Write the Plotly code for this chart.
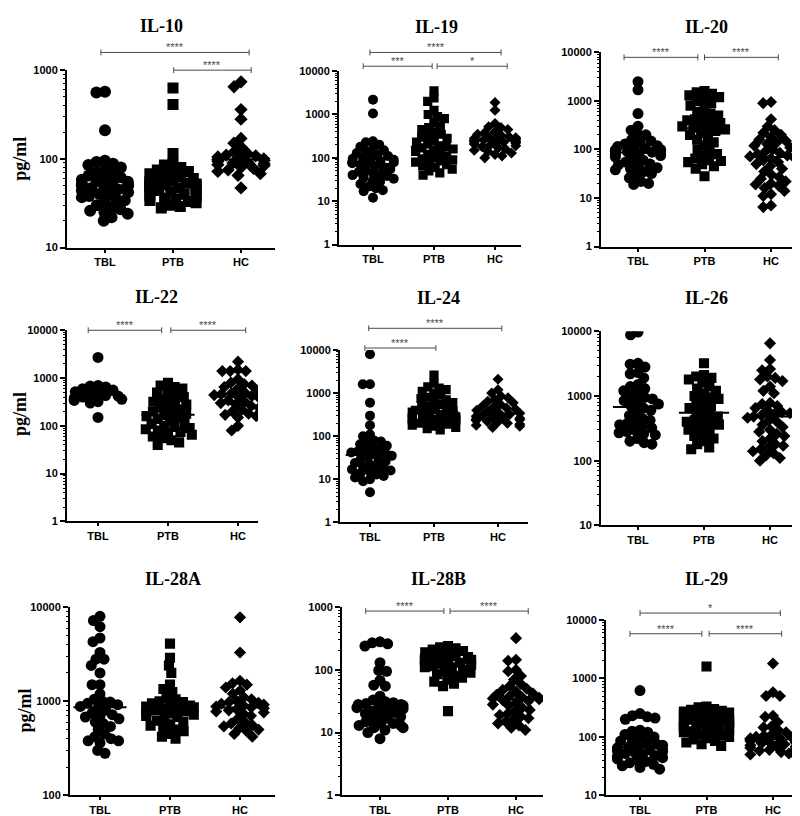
import numpy as np
import plotly.graph_objects as go

GROUPS = ["TBL", "PTB", "HC"]

# ---------------- data (pg/ml) ----------------
il10_tbl = [570, 560, 210, 95, 92, 88, 85, 80, 75, 70, 68, 65, 62, 60, 58, 56, 55, 53, 52, 51, 50, 50, 48, 47,
            45, 44, 42, 40, 40, 38, 37, 35, 34, 32, 30, 28, 27, 26, 25, 24, 22, 20]
il10_ptb = [630, 410, 115, 88, 85, 80, 75, 72, 70, 68, 65, 63, 60, 58, 56, 55, 53, 52, 52, 51, 51, 50, 48, 47,
            45, 44, 43, 42, 40, 40, 38, 37, 36, 35, 34, 33, 32, 30, 29, 28]
il10_hc = [740, 650, 360, 280, 170, 150, 135, 120, 115, 110, 108, 105, 102, 100, 98, 96, 94, 92, 90, 88, 86, 84,
           80, 78, 75, 72, 68, 65, 47]

il19_tbl = [2200, 1050, 240, 230, 200, 180, 160, 150, 140, 130, 120, 110, 100, 100, 95, 90, 85, 80, 78, 75, 72, 70,
            65, 60, 55, 50, 48, 45, 42, 40, 38, 35, 33, 30, 28, 25, 22, 20, 18, 17, 12]
il19_ptb = [3500, 2400, 2000, 1250, 1000, 900, 800, 650, 550, 500, 450, 400, 350, 320, 300, 280, 250, 230, 210, 190,
            180, 170, 160, 150, 140, 130, 120, 110, 100, 95, 90, 85, 80, 75, 70, 65, 60, 55, 50, 45, 40]
il19_hc = [1900, 1250, 620, 520, 500, 450, 400, 380, 350, 330, 310, 300, 290, 280, 270, 260, 250, 245, 240, 235, 230,
           220, 210, 200, 190, 180, 170, 160, 150, 140, 130, 120, 110, 100]

il20_tbl = [2500, 1700, 550, 300, 250, 200, 200, 160, 150, 140, 130, 120, 115, 110, 105, 100, 98, 95, 92, 90, 88, 86,
            82, 80, 75, 70, 65, 60, 55, 50, 48, 45, 42, 40, 38, 35, 32, 30, 26, 22, 20, 19]
il20_ptb = [1600, 1500, 1400, 1300, 1200, 1100, 1000, 900, 800, 700, 600, 550, 500, 450, 420, 400, 380, 350, 320, 300,
            280, 270, 260, 240, 220, 200, 180, 160, 140, 120, 100, 90, 80, 75, 65, 60, 58, 55, 50, 45, 40, 28]
il20_hc = [950, 900, 420, 300, 250, 220, 200, 180, 160, 150, 140, 130, 120, 110, 100, 90, 85, 80, 75, 72, 70, 65, 60,
           55, 50, 45, 40, 35, 30, 27, 25, 22, 20, 19, 18, 16, 14, 12, 11, 7, 6.5]

il22_tbl = [2700, 700, 680, 650, 600, 560, 520, 480, 450, 430, 420, 400, 380, 360, 340, 320, 300, 150]
il22_ptb = [800, 700, 650, 600, 550, 500, 450, 400, 380, 350, 320, 300, 280, 260, 240, 220, 200, 190, 180, 170, 160,
            150, 140, 130, 120, 110, 100, 95, 90, 85, 80, 75, 70, 65, 60, 55, 50, 45, 40]
il22_hc = [2200, 1500, 1400, 1400, 1400, 950, 800, 750, 700, 650, 600, 550, 500, 480, 460, 440, 420, 400, 380, 360,
           340, 320, 300, 280, 260, 240, 220, 200, 180, 170, 160, 150, 100, 80]

il24_tbl = [8000, 1600, 1600, 600, 300, 180, 110, 100, 80, 75, 70, 65, 60, 55, 50, 48, 45, 42, 40, 38, 35, 32, 30, 28,
            26, 24, 22, 20, 19, 18, 17, 16, 15, 14, 13, 12, 11, 10, 9, 5]
il24_ptb = [2600, 1700, 1400, 1300, 1200, 1100, 1000, 900, 800, 750, 700, 650, 600, 550, 500, 480, 450, 420, 400, 380,
            360, 340, 320, 300, 290, 280, 270, 260, 250, 240, 230, 220, 210, 200, 190, 180, 170, 160, 150, 140]
il24_hc = [2100, 1200, 1000, 850, 780, 700, 650, 600, 550, 500, 480, 450, 420, 400, 380, 360, 340, 320, 300, 290, 280,
           270, 260, 250, 240, 230, 220, 210, 200, 190, 180, 170, 160]

il26_tbl = [9700, 8800, 3200, 3100, 2800, 2300, 2200, 1900, 1500, 1400, 1300, 1200, 1100, 1000, 950, 900, 850, 800,
            750, 700, 650, 600, 550, 500, 450, 420, 400, 380, 360, 340, 320, 300, 280, 270, 260, 250, 220, 200, 190, 180]
il26_ptb = [3200, 2100, 2000, 1900, 1800, 1600, 1400, 1300, 1200, 1100, 1000, 950, 900, 800, 750, 700, 650, 600, 550,
            500, 480, 450, 420, 400, 380, 360, 340, 320, 300, 280, 260, 240, 220, 200, 180, 160, 150]
il26_hc = [6500, 3600, 2600, 2500, 2000, 1900, 1800, 1700, 1400, 1200, 1100, 780, 750, 700, 650, 600, 560, 540, 520,
           500, 480, 460, 420, 400, 360, 330, 300, 280, 260, 240, 220, 200, 180, 170, 160, 150, 140, 130, 120, 110, 100]

il28a_tbl = [8000, 7200, 6200, 4700, 4300, 3300, 2800, 2800, 2400, 2000, 1500, 1500, 1200, 1050, 1000, 980, 950, 920,
             880, 850, 800, 750, 720, 700, 680, 650, 600, 580, 540, 500, 450, 420, 400, 380, 380, 360, 300, 280]
il28a_ptb = [4100, 2900, 2400, 2000, 1500, 1350, 1250, 1100, 1050, 1000, 980, 950, 920, 900, 880, 860, 840, 820, 800,
             780, 760, 740, 720, 700, 680, 650, 620, 600, 570, 550, 520, 500, 480, 450, 420, 400]
il28a_hc = [7800, 3300, 1650, 1550, 1500, 1400, 1300, 1200, 1100, 1050, 1000, 980, 960, 940, 920, 900, 880, 860, 840,
            820, 800, 780, 760, 740, 700, 650, 600, 580, 560, 540, 520, 500, 480, 450, 420]

il28b_tbl = [280, 270, 260, 240, 130, 98, 95, 68, 57, 55, 38, 33, 31, 30, 29, 28, 28, 27, 26, 25, 24, 23, 22, 21, 20,
             19, 18, 17, 16, 15, 14, 14, 13, 13, 12, 12, 11, 10, 8]
il28b_ptb = [240, 230, 220, 210, 200, 190, 180, 170, 165, 160, 155, 150, 145, 140, 135, 130, 125, 120, 115, 110, 105,
             100, 95, 90, 85, 80, 75, 70, 65, 60, 55, 22]
il28b_hc = [320, 145, 140, 100, 95, 80, 70, 60, 55, 50, 48, 45, 42, 40, 38, 37, 36, 35, 34, 33, 32, 30, 28, 27, 25, 23,
            22, 20, 19, 18, 17, 16, 15, 14, 13, 12, 11]

il29_tbl = [620, 250, 230, 220, 210, 200, 130, 125, 120, 110, 100, 95, 90, 85, 80, 75, 72, 70, 68, 65, 62, 60, 58, 56,
            54, 52, 50, 48, 46, 44, 42, 40, 38, 36, 34, 32, 30, 28]
il29_ptb = [1600, 330, 320, 300, 290, 280, 270, 260, 250, 240, 230, 220, 210, 200, 195, 190, 185, 180, 175, 170, 165,
            160, 155, 150, 145, 140, 135, 130, 125, 120, 115, 110, 105, 100, 95, 90, 85, 80, 75, 70]
il29_hc = [1800, 580, 500, 500, 230, 220, 180, 150, 145, 130, 120, 110, 105, 100, 98, 96, 94, 92, 90, 88, 85, 82, 80,
           78, 75, 72, 70, 68, 65, 62, 60, 58, 55, 52, 50, 48]

# ---------------- panel layout (pixels in an 800x816 canvas) ----------------
W, H = 800, 816
PANELS = [
    dict(title="IL-10", data=(il10_tbl, il10_ptb, il10_hc), yr=(10, 1000), box=(59, 267, 57, 237), cats=(97, 233),
         tpos=(153, 12), ylab=(12, 147), size=12,
         br=[(-0.06, 2.12, 39, "****"), (1.01, 2.15, 57, "****")]),
    dict(title="IL-19", data=(il19_tbl, il19_ptb, il19_hc), yr=(1, 10000), box=(331, 513, 58, 234), cats=(365, 487),
         tpos=(428, 13), ylab=None, size=10,
         br=[(-0.05, 2.1, 39, "****"), (-0.16, 0.97, 53, "***"), (1.05, 2.2, 53, "*")]),
    dict(title="IL-20", data=(il20_tbl, il20_ptb, il20_hc), yr=(1, 10000), box=(593, 793, 39, 236), cats=(630, 763),
         tpos=(698, 13), ylab=None, size=11,
         br=[(-0.21, 0.9, 44, "****"), (1.0, 2.11, 44, "****")]),
    dict(title="IL-22", data=(il22_tbl, il22_ptb, il22_hc), yr=(1, 10000), box=(59, 250, 321, 515), cats=(90, 230),
         tpos=(148, 287), ylab=(12, 406), size=11,
         br=[(-0.14, 0.91, 321, "****"), (1.04, 2.11, 321, "****")]),
    dict(title="IL-24", data=(il24_tbl, il24_ptb, il24_hc), yr=(1, 10000), box=(332, 520, 341, 516), cats=(362, 490),
         tpos=(430, 288), ylab=None, size=10,
         br=[(-0.02, 2.06, 319, "****"), (-0.08, 1.03, 339, "****")]),
    dict(title="IL-26", data=(il26_tbl, il26_ptb, il26_hc), yr=(10, 10000), box=(593, 798, 322, 519), cats=(630, 762),
         tpos=(698, 288), ylab=None, size=11, br=[]),
    dict(title="IL-28A", data=(il28a_tbl, il28a_ptb, il28a_hc), yr=(100, 10000), box=(62, 267, 602, 793),
         cats=(92, 232), tpos=(165, 573), ylab=(17, 707), size=11, br=[]),
    dict(title="IL-28B", data=(il28b_tbl, il28b_ptb, il28b_hc), yr=(1, 1000), box=(334, 535, 602, 793),
         cats=(372, 508), tpos=(430, 573), ylab=None, size=11,
         br=[(-0.21, 0.94, 606, "****"), (1.03, 2.18, 606, "****")]),
    dict(title="IL-29", data=(il29_tbl, il29_ptb, il29_hc), yr=(10, 10000), box=(598, 798, 615, 793),
         cats=(632, 765), tpos=(698, 573), ylab=None, size=11,
         br=[(0.0, 2.11, 608, "*"), (-0.15, 0.93, 629, "****"), (1.04, 2.13, 629, "****")]),
]

SYMS = ["circle", "square", "diamond"]
SIZE_SCALE = [1.0, 0.92, 0.85]
SERIF = "Liberation Serif"
SANS = "Liberation Sans"
BR_COLOR = "#4a4a4a"
SPREAD = 0.72      # collision distance as a fraction of marker size (markers overlap like GraphPad)
MAXW = 0.34        # maximum horizontal half-width of a swarm, in category units
MED_HW = 0.38      # half-width of the median line, in category units


def swarm(ypx, d, maxw):
    """Deterministic beeswarm: horizontal pixel offsets so markers do not collide."""
    n = len(ypx)
    xs = np.zeros(n)
    order = np.argsort(ypx, kind="stable")
    placed = []
    for i in order:
        y = ypx[i]
        iv = []
        for xj, yj in placed:
            dy = abs(y - yj)
            if dy < d:
                dx = np.sqrt(d * d - dy * dy)
                iv.append((xj - dx, xj + dx))
        cands = [0.0] + [a for a, b in iv] + [b for a, b in iv]
        cands.sort(key=lambda c: (abs(c), c))
        for c in cands:
            if all(not (a + 1e-6 < c < b - 1e-6) for a, b in iv):
                xs[i] = c
                break
        xs[i] = float(np.clip(xs[i], -maxw, maxw))
        placed.append((xs[i], y))
    return xs


fig = go.Figure()
layout = dict(width=W, height=H, margin=dict(l=0, r=0, t=0, b=0), paper_bgcolor="white",
              plot_bgcolor="white", showlegend=False)
shapes, annots = [], []

for k, p in enumerate(PANELS, start=1):
    sfx = "" if k == 1 else str(k)
    xref, yref = "x" + sfx, "y" + sfx
    x0, x1, yt, yb = p["box"]
    c0, c2 = p["cats"]
    unit = (c2 - c0) / 2.0
    xr = [(x0 - c0) / unit, (x1 - c0) / unit]
    lo, hi = np.log10(p["yr"][0]), np.log10(p["yr"][1])

    for g, vals in enumerate(p["data"]):
        v = np.asarray(vals, dtype=float)
        ypx = yb - (np.log10(v) - lo) / (hi - lo) * (yb - yt)
        dx = swarm(ypx, p["size"] * SPREAD, MAXW * unit)
        fig.add_trace(go.Scatter(
            x=g + dx / unit, y=v, mode="markers", xaxis=xref, yaxis=yref,
            marker=dict(symbol=SYMS[g], size=p["size"] * SIZE_SCALE[g], color="black", line=dict(width=0)),
            hoverinfo="skip", showlegend=False))
        med = float(np.median(v))
        fig.add_trace(go.Scatter(
            x=[g - MED_HW, g + MED_HW], y=[med, med], mode="lines", xaxis=xref, yaxis=yref,
            line=dict(color="black", width=2), hoverinfo="skip", showlegend=False))

    decades = [10 ** e for e in range(int(round(lo)), int(round(hi)) + 1)]
    minors = [m * 10 ** e for e in range(int(round(lo)), int(round(hi))) for m in range(2, 10)]
    layout["xaxis" + sfx] = dict(
        domain=[x0 / W, x1 / W], range=xr, anchor=yref, tickmode="array", tickvals=[0, 1, 2], ticktext=GROUPS,
        ticks="outside", ticklen=3, tickwidth=1.5, tickcolor="black", showline=True, linecolor="black",
        linewidth=2, showgrid=False, zeroline=False, fixedrange=True,
        tickfont=dict(family=SANS, size=11, color="black", weight="bold"))
    layout["yaxis" + sfx] = dict(
        domain=[1 - yb / H, 1 - yt / H], type="log", range=[lo, hi], anchor=xref, tickmode="array",
        tickvals=decades, ticktext=[str(d) for d in decades], ticks="outside", ticklen=5, tickwidth=1.5,
        tickcolor="black", showline=True, linecolor="black", linewidth=2, showgrid=False, zeroline=False,
        fixedrange=True, tickfont=dict(family=SANS, size=11, color="black", weight="bold"),
        minor=dict(tickmode="array", tickvals=minors, ticks="outside", ticklen=2.5, tickwidth=1,
                   tickcolor="black", showgrid=False))

    annots.append(dict(text="<b>%s</b>" % p["title"], x=p["tpos"][0] / W, y=1 - p["tpos"][1] / H, xref="paper",
                       yref="paper", showarrow=False, xanchor="center", yanchor="middle",
                       font=dict(family=SERIF, size=18, color="black")))
    if p["ylab"]:
        annots.append(dict(text="<b>pg/ml</b>", x=p["ylab"][0] / W, y=1 - p["ylab"][1] / H, xref="paper",
                           yref="paper", showarrow=False, xanchor="center", yanchor="middle", textangle=-90,
                           font=dict(family=SERIF, size=18, color="black")))
    for (a, b, ypix, lab) in p["br"]:
        yp = 1 - ypix / H
        cap = 3.0 / H
        shapes.append(dict(type="line", xref=xref, yref="paper", x0=a, x1=b, y0=yp, y1=yp,
                           line=dict(color=BR_COLOR, width=1)))
        for xe in (a, b):
            shapes.append(dict(type="line", xref=xref, yref="paper", x0=xe, x1=xe, y0=yp - cap, y1=yp + cap,
                               line=dict(color=BR_COLOR, width=1)))
        annots.append(dict(text=lab, x=(a + b) / 2, y=yp, xref=xref, yref="paper", showarrow=False,
                           xanchor="center", yanchor="bottom", yshift=-3,
                           font=dict(family=SANS, size=11, color=BR_COLOR)))

layout["shapes"] = shapes
layout["annotations"] = annots
fig.update_layout(**layout)
fig.write_html("out.html")
